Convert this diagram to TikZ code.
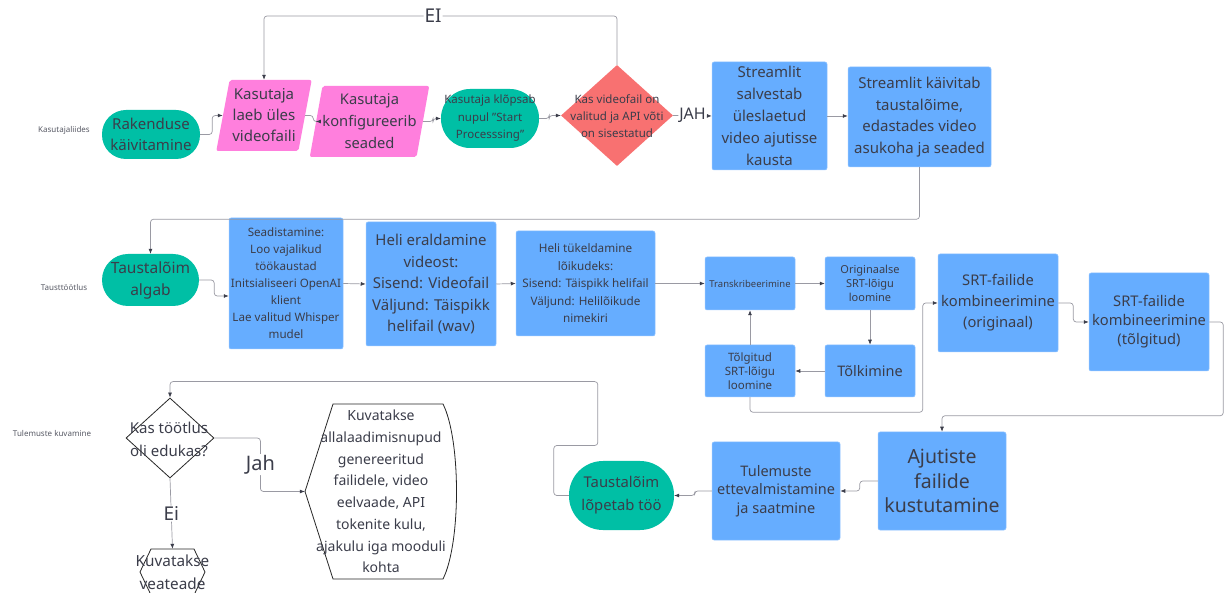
\documentclass[tikz,border=0pt]{standalone}
\usepackage{fontspec}
\setmainfont{Noto Sans}
\usetikzlibrary{shapes.geometric,arrows.meta}
\definecolor{ink}{HTML}{3B3D4A}
\definecolor{startgreen}{HTML}{00BFA5}
\definecolor{uipink}{HTML}{FF7FDD}
\definecolor{stepblue}{HTML}{66ADFF}
\definecolor{checkred}{HTML}{F87171}
\definecolor{linegray}{HTML}{9A9AA3}
\begin{document}
\begin{tikzpicture}[x=1pt, y=-1pt,
		every node/.style={text=ink, align=center, inner sep=0pt},
		fsz/.style 2 args={font=\fontsize{#1}{#2}\selectfont},
		stadium/.style={rectangle, fill=startgreen},
		uibox/.style={trapezium, trapezium left angle=77, trapezium right angle=103,
			trapezium stretches=true, fill=uipink, rounded corners=2pt},
		stepbox/.style={rectangle, fill=stepblue, draw=stepblue!70!white, line width=0.5pt, rounded corners=2pt},
		decision/.style={diamond, fill=checkred},
		check/.style={diamond, draw=black!85, line width=0.8pt, fill=white},
		outline/.style={draw=black!85, line width=0.8pt},
		conn/.style={draw=linegray, line width=0.7pt, rounded corners=3pt, -{Latex[length=5pt,width=4pt,color=ink]}},
		edgelbl/.style={fill=white, inner sep=1pt, fsz={19}{21}},
		lane/.style={text=ink!85, fsz={8}{10}}]
		\fill[white] (0,0) rectangle (1224,593);
		\useasboundingbox (0,0) rectangle (1224,593);

		\node[lane] (laneui) at (64,130) {Kasutajaliides};
		\node[lane] (lanebg) at (64,288) {Tausttöötlus};
		\node[lane] (laneres) at (52,434) {Tulemuste kuvamine};

		\node[stadium, rounded corners=24pt, minimum width=98pt, minimum height=49pt, fsz={15}{21}] (start) at (151,134.5) {Rakenduse\\käivitamine};
		\node[uibox, minimum width=96pt, minimum height=71pt, fsz={15}{21}] (upload) at (264,115.5) {Kasutaja\\laeb üles\\videofaili};
		\node[uibox, minimum width=113pt, minimum height=71pt, fsz={14.7}{22}] (config) at (369.5,121.5) {Kasutaja\\konfigureerib\\seaded};
		\node[stadium, rounded corners=29pt, minimum width=98pt, minimum height=59pt, fsz={11.5}{17.5}] (click) at (490,118.5) {Kasutaja klõpsab\\nupul "Start\\Processsing"};
		\node[decision, minimum width=112pt, minimum height=101pt] (valid) at (617,115.5) {};
		\node[fsz={11.5}{17}] (validtxt) at (617,116) {Kas videofail on\\valitud ja API võti\\on sisestatud};
		\node[stepbox, minimum width=115pt, minimum height=108pt, fsz={15}{22}] (save) at (769.5,116) {Streamlit\\salvestab\\üleslaetud\\video ajutisse\\kausta};
		\node[stepbox, minimum width=143pt, minimum height=100pt, fsz={15}{21.5}] (launch) at (919.5,117) {Streamlit käivitab\\taustalõime,\\edastades video\\asukoha ja seaded};

		\node[stadium, rounded corners=26pt, minimum width=97pt, minimum height=52pt, fsz={15.5}{22}] (bgstart) at (150.5,280) {Taustalõim\\algab};
		\node[stepbox, minimum width=114pt, minimum height=131pt, fsz={11.6}{17}] (setup) at (286,283.5) {Seadistamine:\\Loo vajalikud\\töökaustad\\Initsialiseeri OpenAI\\klient\\Lae valitud Whisper\\mudel};
		\node[stepbox, minimum width=130pt, minimum height=124pt, fsz={15}{21.5}] (extract) at (431,284) {Heli eraldamine\\videost:\\Sisend: Videofail\\Väljund: Täispikk\\helifail (wav)};
		\node[stepbox, minimum width=139pt, minimum height=105pt, fsz={11.7}{17.5}] (chunk) at (585.5,283.5) {Heli tükeldamine\\lõikudeks:\\Sisend: Täispikk helifail\\Väljund: Helilõikude\\nimekiri};
		\node[stepbox, minimum width=90pt, minimum height=53pt, fsz={9.5}{12}] (trans) at (750,283.5) {Transkribeerimine};
		\node[stepbox, minimum width=90pt, minimum height=53pt, fsz={11}{14}] (orig) at (870,283.5) {Originaalse\\SRT-lõigu\\loomine};
		\node[stepbox, minimum width=90pt, minimum height=52pt, fsz={14.5}{18}] (tolk) at (870,371) {Tõlkimine};
		\node[stepbox, minimum width=90pt, minimum height=52pt, fsz={11.5}{14}] (transl) at (750,371) {Tõlgitud\\SRT-lõigu\\loomine};
		\node[stepbox, minimum width=120pt, minimum height=98pt, fsz={14.7}{21}] (combo1) at (998,303) {SRT-failide\\kombineerimine\\(originaal)};
		\node[stepbox, minimum width=120pt, minimum height=98pt, fsz={14.7}{19}] (combo2) at (1149,322) {SRT-failide\\kombineerimine\\(tõlgitud)};

		\node[stepbox, minimum width=128pt, minimum height=98pt, fsz={19.5}{24.5}] (cleanup) at (942,481) {Ajutiste\\failide\\kustutamine};
		\node[stepbox, minimum width=128pt, minimum height=98pt, fsz={14.5}{18.5}] (results) at (776,491) {Tulemuste\\ettevalmistamine\\ja saatmine};
		\node[stadium, rounded corners=34pt, minimum width=105pt, minimum height=69pt, fsz={14.8}{23}] (finish) at (621.5,495.5) {Taustalõim\\lõpetab töö};
		\node[check, minimum width=88pt, minimum height=80pt] (success) at (170,438) {};
		\node[fsz={15}{23}] (successtxt) at (169,439.5) {Kas töötlus\\oli edukas?};
		\draw[outline] (140,572) -- (151,549) -- (194,549) -- (205,572) -- (194,595) -- (151,595) -- cycle;
		\node[minimum width=65pt, minimum height=46pt, fsz={15.3}{23}] (err) at (172.5,572) {Kuvatakse\\veateade};
		\draw[outline] (305,491.5) -- (333,404) -- (443,404) .. controls (461,440) and (461,543) .. (443,579) -- (333,579) -- cycle;
		\node[minimum width=152pt, minimum height=175pt, fsz={14}{21.7}] (shown) at (381,491.5) {Kuvatakse\\allalaadimisnupud\\genereeritud\\failidele, video\\eelvaade, API\\tokenite kulu,\\ajakulu iga mooduli\\kohta};

		\draw[conn] (start.east) -- ++(12,0) |- (upload.west);
		\draw[conn] (upload.east) -- ++(8,0) |- (config.west);
		\draw[conn] (config.east) -- ++(10,0) |- (click.west);
		\draw[conn] (click.east) -- ++(10,0) |- (valid.west);
		\draw[conn] (valid.east) -- node[edgelbl, fsz={16}{18}] (jahtop) {JAH} (save.west);
		\coordinate (eiturn) at (433,16);
		\draw[conn] (valid.north) |- (eiturn) node[edgelbl] (eitop) {EI} -| (upload.north);
		\draw[conn] (save.east) -- (save.east -| launch.west);
		\draw[conn] (launch.south) -- ++(0,52) -| (bgstart.north);
		\draw[conn] (bgstart.east) -- ++(15,0) |- ([yshift=-12.5pt]setup.west);
		\draw[conn] (setup.east) -- (extract.west);
		\draw[conn] (extract.east) -- (chunk.west);
		\draw[conn] (chunk.east) -- (trans.west);
		\draw[conn] (trans.east) -- (orig.west);
		\draw[conn] (orig.south) -- (tolk.north);
		\draw[conn] (tolk.west) -- (transl.east);
		\draw[conn] (transl.north) -- (trans.south);
		\draw[conn] (transl.south) -- ++(0,15) -| ([xshift=-15pt]combo1.west) -- (combo1.west);
		\draw[conn] (combo1.east) -- ++(15,0) |- (combo2.west);
		\draw[conn] (combo2.east) -- ++(14,0) |- ([yshift=16pt]cleanup.north) -- (cleanup.north);
		\draw[conn] (cleanup.west) -- ++(-18,0) |- (results.east);
		\draw[conn] (results.west) -- ++(-17,0) |- (finish.east);
		\draw[conn] (finish.west) -- ++(-15,0) |- ++(44,-50) |- ([yshift=16pt]success.north) -- (success.north);
		\draw[conn] (success.east) -- ++(46,0) |- node[pos=0.25, edgelbl, fsz={20}{22}] (jahlbl) {Jah} (shown.west);
		\draw[conn] (success.south) -- node[edgelbl] (eilbl) {Ei} (err.north);
	\end{tikzpicture}
\end{document}
